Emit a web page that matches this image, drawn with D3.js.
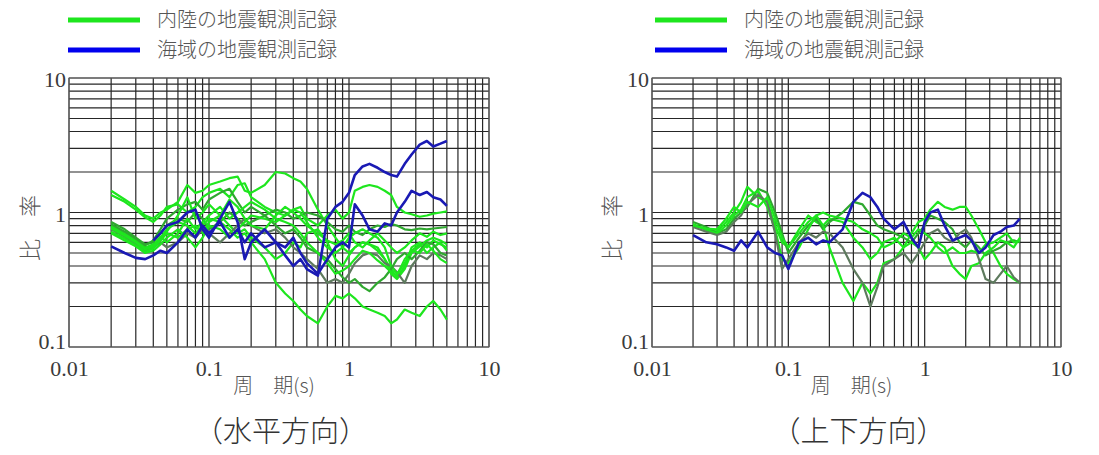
<!DOCTYPE html>
<html>
<head>
<meta charset="utf-8">
<script src="https://cdn.jsdelivr.net/npm/d3@7"></script>
<style>
  html, body { margin: 0; padding: 0; background: #fff; }
  svg { display: block; }
</style>
</head>
<body>
<svg id="chart" width="1099" height="455"></svg>
<script>
// ---------------- DATA ----------------
const periods = [0.02, 0.025, 0.03, 0.035, 0.04, 0.045, 0.05, 0.06, 0.07, 0.08, 0.09, 0.1,
  0.12, 0.14, 0.16, 0.18, 0.2, 0.25, 0.3, 0.35, 0.4, 0.45, 0.5, 0.6, 0.7, 0.8, 0.9, 1.0,
  1.1, 1.25, 1.4, 1.6, 1.8, 2.0, 2.2, 2.5, 2.8, 3.2, 3.6, 4.0, 4.5, 5.0];

const xTickLabels = ["0.01", "0.1", "1", "10"];
const yTickLabels = ["0.1", "1", "10"];
const legendLabels = ["内陸の地震観測記録", "海域の地震観測記録"];
const panelTitles = ["（水平方向）", "（上下方向）"];
const xAxisTitle = "周　期(s)";
const yAxisTitle = "比　率";

// Horizontal component — inland records (green)
const hInland1 = [1.45,1.25,1.1,0.95,0.9,1.0,1.05,1.2,1.6,1.4,1.45,1.6,1.7,1.8,1.85,1.45,1.4,1.6,2.0,1.95,1.8,1.7,1.5,1.05,0.8,0.65,0.55,0.5,0.55,0.6,0.58,0.55,0.45,0.38,0.33,0.4,0.55,0.6,0.55,0.62,0.58,0.55];
const hInland2 = [1.35,1.2,1.05,0.92,0.85,0.95,1.1,1.15,1.0,1.1,1.3,1.4,1.5,1.3,1.6,1.65,1.3,1.1,1.0,0.95,1.05,1.1,0.9,0.8,0.95,1.05,0.9,1.0,1.45,1.55,1.6,1.55,1.45,1.35,1.1,1.0,0.97,0.93,0.95,0.98,1.0,1.02];
const hInland3 = [0.85,0.75,0.65,0.58,0.6,0.7,0.8,0.9,0.85,1.0,0.9,0.75,0.85,1.0,0.9,0.8,0.85,0.95,1.05,1.0,0.9,0.95,1.0,0.95,0.85,0.75,0.72,0.8,0.72,0.68,0.75,0.8,0.78,0.82,0.8,0.75,0.74,0.76,0.75,0.76,0.77,0.78];
const hInland4 = [0.8,0.7,0.62,0.55,0.58,0.62,0.7,0.65,0.75,0.8,0.7,0.85,0.95,0.8,0.7,0.75,0.65,0.55,0.45,0.5,0.6,0.55,0.7,0.75,0.6,0.45,0.4,0.48,0.55,0.6,0.58,0.52,0.45,0.35,0.32,0.38,0.5,0.56,0.62,0.65,0.62,0.58];
const hInland5 = [0.75,0.66,0.58,0.52,0.55,0.6,0.55,0.6,0.7,0.65,0.75,0.7,0.6,0.7,0.8,0.9,0.8,0.7,0.75,0.65,0.55,0.5,0.45,0.38,0.3,0.32,0.3,0.35,0.42,0.48,0.5,0.48,0.42,0.4,0.36,0.3,0.4,0.48,0.45,0.5,0.48,0.45];
const hInland6 = [0.7,0.62,0.56,0.5,0.52,0.58,0.65,0.75,0.65,0.55,0.65,0.8,0.75,0.65,0.75,0.85,0.95,0.9,0.85,0.95,1.05,1.0,0.85,0.65,0.55,0.5,0.55,0.65,0.7,0.75,0.7,0.65,0.55,0.4,0.35,0.42,0.52,0.58,0.5,0.55,0.6,0.52];
const hInland7 = [0.78,0.68,0.6,0.54,0.57,0.65,0.75,0.85,0.8,0.7,0.8,0.9,0.85,0.75,0.65,0.7,0.6,0.45,0.3,0.25,0.22,0.19,0.17,0.15,0.2,0.24,0.23,0.25,0.23,0.2,0.19,0.18,0.17,0.15,0.16,0.19,0.18,0.17,0.2,0.22,0.19,0.16];
const hInland8 = [0.82,0.72,0.64,0.57,0.62,0.75,0.9,1.05,1.15,1.2,1.05,1.25,1.4,1.5,1.2,1.0,1.1,0.95,0.8,0.7,0.75,0.65,0.55,0.5,0.45,0.38,0.33,0.3,0.32,0.28,0.26,0.3,0.33,0.38,0.45,0.5,0.45,0.52,0.6,0.58,0.5,0.48];
const hInland9 = [0.76,0.67,0.6,0.53,0.56,0.66,0.6,0.7,0.9,0.75,0.85,0.95,1.1,0.9,1.0,1.1,1.2,1.05,0.9,0.85,0.8,0.7,0.6,0.5,0.42,0.35,0.37,0.4,0.45,0.52,0.5,0.44,0.4,0.36,0.34,0.45,0.52,0.5,0.58,0.52,0.45,0.42];
const hInland10 = [0.72,0.64,0.57,0.51,0.54,0.62,0.72,0.95,1.3,0.9,1.0,1.15,0.95,1.25,1.1,0.9,0.8,0.75,0.95,1.1,1.0,0.9,0.8,0.7,0.62,0.58,0.62,0.7,0.6,0.55,0.62,0.7,0.62,0.55,0.5,0.55,0.62,0.7,0.66,0.72,0.68,0.7];

// Horizontal component — offshore records (blue)
const hOffshore1 = [0.56,0.5,0.46,0.45,0.48,0.52,0.5,0.6,0.75,0.65,0.8,0.7,0.85,0.65,0.75,0.6,0.7,0.55,0.6,0.48,0.4,0.45,0.38,0.34,0.9,1.1,1.2,1.4,1.9,2.2,2.3,2.15,2.0,1.9,1.85,2.3,2.7,3.2,3.4,3.1,3.25,3.4];
const hOffshore2 = [null,null,null,null,0.62,0.7,0.8,0.85,1.0,1.05,0.75,0.65,0.9,1.2,0.85,0.45,0.6,0.75,0.6,0.55,0.65,0.5,0.42,0.35,0.45,0.55,0.6,0.55,1.15,0.95,0.75,0.72,0.83,0.8,1.0,1.2,1.45,1.35,1.42,1.3,1.25,1.12];

// Vertical component — inland records (green)
const vInland1 = [0.8,0.75,0.72,0.85,1.0,1.2,1.55,1.3,1.2,0.8,0.6,0.55,0.75,0.95,0.85,0.8,0.9,0.85,0.65,0.55,0.45,0.5,0.6,0.65,0.55,0.7,0.85,0.9,1.05,1.2,1.1,1.05,1.1,1.1,0.95,0.75,0.6,0.5,0.4,0.35,0.32,0.3];
const vInland2 = [0.85,0.78,0.7,0.75,0.9,1.0,1.1,1.5,1.4,1.0,0.7,0.5,0.65,0.8,0.9,0.75,0.85,1.0,1.2,1.15,0.95,0.8,0.75,0.7,0.65,0.6,0.7,0.8,0.95,0.9,0.85,0.75,0.6,0.55,0.62,0.55,0.48,0.52,0.55,0.6,0.62,0.6];
const vInland3 = [0.82,0.74,0.7,0.8,0.95,1.05,1.3,1.45,1.1,0.75,0.45,0.42,0.55,0.75,0.95,0.8,0.55,0.3,0.22,0.3,0.25,0.3,0.42,0.45,0.55,0.6,0.55,0.45,0.5,0.6,0.55,0.4,0.35,0.32,0.4,0.42,0.5,0.55,0.62,0.6,0.55,0.65];
const vInland4 = [0.78,0.72,0.68,0.72,0.85,0.95,1.15,1.35,1.2,0.7,0.38,0.45,0.6,0.7,0.65,0.72,0.7,0.55,0.38,0.3,0.2,0.28,0.4,0.45,0.5,0.42,0.5,0.6,0.7,0.75,0.65,0.6,0.7,0.75,0.65,0.45,0.32,0.3,0.35,0.4,0.33,0.3];
const vInland5 = [0.8,0.76,0.75,0.9,1.1,1.0,1.2,1.1,1.3,0.9,0.65,0.55,0.7,0.85,0.95,1.0,0.95,0.9,0.85,0.75,0.7,0.65,0.55,0.6,0.7,0.65,0.75,0.7,0.65,0.55,0.5,0.55,0.5,0.5,0.52,0.5,0.58,0.6,0.65,0.7,0.6,0.62];

// Vertical component — offshore record (blue)
const vOffshore1 = [0.68,0.6,0.58,0.55,0.52,0.62,0.55,0.72,0.55,0.5,0.48,0.38,0.6,0.65,0.58,0.62,0.6,0.75,1.2,1.4,1.3,1.1,0.9,0.75,0.85,0.65,0.55,0.85,1.0,1.05,0.8,0.62,0.65,0.68,0.62,0.5,0.55,0.68,0.72,0.78,0.8,0.9];

// ---------------- DRAWING ----------------
const svg = d3.select("#chart");
const GREEN = "#1ee61e", GREEN_D = "#2fa82f", GRAY_G = "#5e7a5e", BLUE = "#1a1ab4";

const panels = [
  { x0: 69, x1: 489, legendX: 68, title: panelTitles[0],
    yLabelX: 30,
    green: [hInland1, hInland2, hInland3, hInland4, hInland5, hInland6, hInland7, hInland8, hInland9, hInland10],
    greenColors: [GREEN, GREEN, GREEN_D, GREEN, GRAY_G, GREEN, GREEN, GREEN_D, GREEN, GREEN],
    blue: [hOffshore1, hOffshore2] },
  { x0: 652, x1: 1061, legendX: 655, title: panelTitles[1],
    yLabelX: 612,
    green: [vInland1, vInland2, vInland3, vInland4, vInland5],
    greenColors: [GREEN, GREEN_D, GREEN, GRAY_G, GREEN],
    blue: [vOffshore1] }
];

const yTop = 78, yBot = 347;

panels.forEach(p => {
  const x = d3.scaleLog().domain([0.01, 10]).range([p.x0, p.x1]);
  const y = d3.scaleLog().domain([0.1, 10]).range([yBot, yTop]);
  const g = svg.append("g");

  // grid
  const xGrid = [];
  [0.01, 0.1, 1].forEach(d => { for (let k = 1; k <= 9; k++) xGrid.push(d * k); });
  xGrid.push(10);
  const yGrid = [];
  [0.1, 1].forEach(d => { for (let k = 1; k <= 9; k++) yGrid.push(d * k); });
  yGrid.push(10);

  g.append("g").selectAll("line").data(xGrid).join("line")
    .attr("x1", d => x(d)).attr("x2", d => x(d))
    .attr("y1", yTop).attr("y2", yBot)
    .attr("stroke", "#262626").attr("stroke-width", 1.2);
  g.append("g").selectAll("line").data(yGrid).join("line")
    .attr("x1", p.x0).attr("x2", p.x1)
    .attr("y1", d => y(d)).attr("y2", d => y(d))
    .attr("stroke", "#262626").attr("stroke-width", 1.2);
  g.append("rect").attr("x", p.x0).attr("y", yTop)
    .attr("width", p.x1 - p.x0).attr("height", yBot - yTop)
    .attr("fill", "none").attr("stroke", "#666").attr("stroke-width", 1);

  // axes (labels only)
  const xAxis = d3.axisBottom(x).tickValues([0.01, 0.1, 1, 10])
    .tickFormat((d, i) => xTickLabels[i]).tickSize(0).tickPadding(13);
  const xa = g.append("g").attr("transform", `translate(0,${yBot})`).call(xAxis);
  xa.select(".domain").remove();
  xa.selectAll("text").attr("font-family", "'Liberation Serif', 'DejaVu Serif', serif")
    .attr("font-size", 22).attr("fill", "#3a3a3a");

  const yAxis = d3.axisLeft(y).tickValues([0.1, 1, 10])
    .tickFormat((d, i) => yTickLabels[i]).tickSize(0).tickPadding(3);
  const ya = g.append("g").attr("transform", `translate(${p.x0},0)`).call(yAxis);
  ya.select(".domain").remove();
  ya.selectAll("text").attr("font-family", "'Liberation Serif', 'DejaVu Serif', serif")
    .attr("font-size", 22).attr("fill", "#3a3a3a")
    .attr("dy", (d, i) => i === 0 ? "0.05em" : "0.4em");

  // lines
  const line = d3.line()
    .defined(d => d[1] != null)
    .x(d => x(d[0])).y(d => y(d[1]));
  p.green.forEach((s, i) => {
    g.append("path").datum(periods.map((t, j) => [t, s[j]]))
      .attr("d", line).attr("fill", "none")
      .attr("stroke", p.greenColors[i]).attr("stroke-width", 2.2)
      .attr("stroke-linejoin", "round");
  });
  p.blue.forEach(s => {
    g.append("path").datum(periods.map((t, j) => [t, s[j]]))
      .attr("d", line).attr("fill", "none")
      .attr("stroke", BLUE).attr("stroke-width", 2.6)
      .attr("stroke-linejoin", "round");
  });

  // legend
  const lg = svg.append("g");
  [[GREEN, 20], ["#0000ee", 50]].forEach((c, i) => {
    lg.append("line").attr("x1", p.legendX).attr("x2", p.legendX + 72)
      .attr("y1", c[1]).attr("y2", c[1]).attr("stroke", c[0]).attr("stroke-width", 5);
    lg.append("text").attr("x", p.legendX + 89).attr("y", c[1]).attr("dy", "0.36em")
      .attr("font-family", "'Noto Sans CJK JP', sans-serif").attr("font-weight", 300)
      .attr("font-size", 20).attr("fill", "#555").text(legendLabels[i]);
  });

  // axis titles
  const cx = (p.x0 + p.x1) / 2;
  svg.append("text").attr("x", cx - 5).attr("y", 386).attr("dy", "0.36em")
    .attr("text-anchor", "middle")
    .attr("font-family", "'Noto Sans CJK JP', sans-serif").attr("font-weight", 300)
    .attr("font-size", 20).attr("fill", "#555").text(xAxisTitle);
  svg.append("text")
    .attr("transform", `translate(${p.yLabelX},228) rotate(-90)`)
    .attr("text-anchor", "middle").attr("dy", "0.36em")
    .attr("font-family", "'Noto Sans CJK JP', sans-serif").attr("font-weight", 300)
    .attr("font-size", 22).attr("fill", "#555").text(yAxisTitle);
  svg.append("text").attr("x", cx + 2).attr("y", 432).attr("dy", "0.36em")
    .attr("text-anchor", "middle")
    .attr("font-family", "'Noto Sans CJK JP', sans-serif").attr("font-weight", 300)
    .attr("font-size", 29).attr("fill", "#333").text(p.title);
});
</script>
</body>
</html>
